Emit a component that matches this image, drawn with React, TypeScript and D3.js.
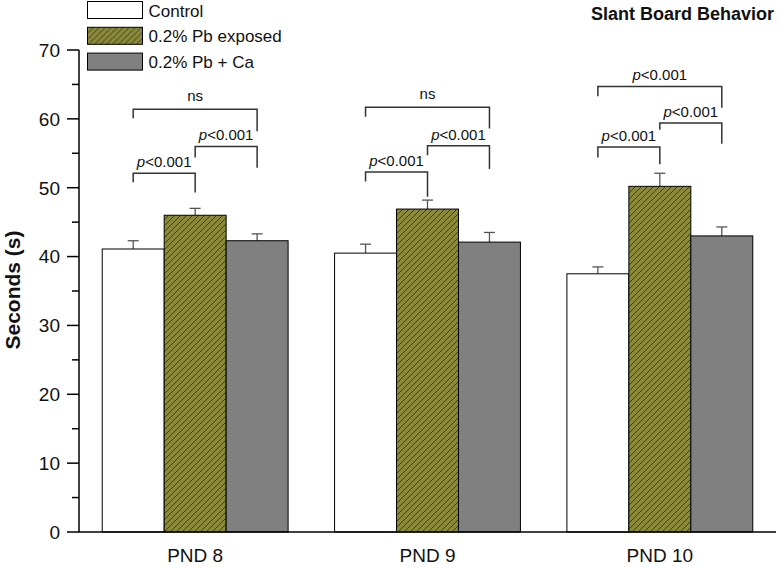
import React from "react";
import * as d3 from "d3";

const categories = ["PND 8", "PND 9", "PND 10"];
const seriesNames = ["Control", "0.2% Pb exposed", "0.2% Pb + Ca"];
const controlMeans = [41.1, 40.5, 37.5];
const controlErr = [1.2, 1.3, 1.0];
const pbMeans = [46.0, 46.9, 50.2];
const pbErr = [1.0, 1.3, 1.9];
const caMeans = [42.3, 42.1, 43.0];
const caErr = [1.0, 1.4, 1.3];
const yTicks = [0, 10, 20, 30, 40, 50, 60, 70];
const yMinorTicks = [5, 15, 25, 35, 45, 55, 65];

// significance brackets: group index, series from/to, bracket level, left/right drop ends
const bracketGroup = [0, 0, 0, 1, 1, 1, 2, 2, 2];
const bracketFrom = [0, 1, 0, 0, 1, 0, 0, 1, 0];
const bracketTo = [1, 2, 2, 1, 2, 2, 1, 2, 2];
const bracketLevel = [52.1, 56.0, 61.4, 52.3, 56.1, 61.7, 55.9, 59.4, 64.7];
const bracketLeftEnd = [50.8, 54.4, 60.1, 50.9, 54.7, 60.3, 54.4, 58.4, 63.3];
const bracketRightEnd = [49.3, 52.9, 58.2, 48.7, 52.7, 58.6, 53.4, 56.4, 61.6];
const bracketLabel = ["p<0.001", "p<0.001", "ns", "p<0.001", "p<0.001", "ns", "p<0.001", "p<0.001", "p<0.001"];

const FONT = "'Liberation Sans', Arial, sans-serif";

export default function App() {
  const W = 780, H = 569;
  const means = [controlMeans, pbMeans, caMeans];
  const errs = [controlErr, pbErr, caErr];
  const fills = ["#ffffff", "url(#hatch)", "#808080"];

  const x0 = d3.scaleBand<string>().domain(categories).range([79, 776]).paddingInner(0.2).paddingOuter(0.1);
  const x1 = d3.scaleBand<number>().domain([0, 1, 2]).range([0, x0.bandwidth()]).padding(0);
  const y = d3.scaleLinear().domain([0, 70]).range([532, 50]);

  const cx = (g: number, s: number) => (x0(categories[g]) as number) + (x1(s) as number) + x1.bandwidth() / 2;

  return (
    <svg width={W} height={H} style={{ position: "absolute", left: 0, top: 0, background: "#fff" }} fontFamily={FONT}>
      <defs>
        <pattern id="hatch" patternUnits="userSpaceOnUse" width={6} height={6}>
          <rect width={6} height={6} fill="#8a8a3a" />
          <path d="M0,6 L6,0 M-1,1 L1,-1 M5,7 L7,5" stroke="#222214" strokeWidth={0.75} />
        </pattern>
      </defs>

      {/* bars */}
      {categories.map((c, g) =>
        [0, 1, 2].map((s) => {
          const xL = (x0(c) as number) + (x1(s) as number);
          const top = y(means[s][g]);
          const cap = y(means[s][g] + errs[s][g]);
          const xc = xL + x1.bandwidth() / 2;
          return (
            <g key={c + s}>
              <line x1={xc} x2={xc} y1={top} y2={cap} stroke="#555" strokeWidth={1.3} />
              <line x1={xc - 5.5} x2={xc + 5.5} y1={cap} y2={cap} stroke="#555" strokeWidth={1.3} />
              <rect x={xL} y={top} width={x1.bandwidth()} height={y(0) - top} fill={fills[s]} stroke="#000" strokeWidth={1} />
            </g>
          );
        })
      )}

      {/* brackets */}
      {bracketGroup.map((g, i) => {
        const xa = cx(g, bracketFrom[i]);
        const xb = cx(g, bracketTo[i]);
        const yl = y(bracketLevel[i]);
        const lbl = bracketLabel[i];
        return (
          <g key={"b" + i}>
            <path
              d={`M${xa},${y(bracketLeftEnd[i])} L${xa},${yl} L${xb},${yl} L${xb},${y(bracketRightEnd[i])}`}
              fill="none"
              stroke="#333"
              strokeWidth={1.5}
            />
            <text x={(xa + xb) / 2} y={yl - (lbl === "ns" ? 8 : 6)} textAnchor="middle" fontSize={15} fill="#111">
              {lbl.startsWith("p") ? (
                <>
                  <tspan fontStyle="italic">p</tspan>
                  {lbl.slice(1)}
                </>
              ) : (
                lbl
              )}
            </text>
          </g>
        );
      })}

      {/* axes */}
      <line x1={79} x2={79} y1={y(70)} y2={y(0)} stroke="#000" strokeWidth={1.5} />
      <line x1={78.25} x2={776} y1={y(0)} y2={y(0)} stroke="#000" strokeWidth={1.5} />
      {yTicks.map((t) => (
        <g key={"t" + t}>
          <line x1={67} x2={79} y1={y(t)} y2={y(t)} stroke="#000" strokeWidth={1.5} />
          <text x={60} y={y(t)} dy="0.36em" textAnchor="end" fontSize={19} fill="#111">
            {t}
          </text>
        </g>
      ))}
      {yMinorTicks.map((t) => (
        <line key={"m" + t} x1={72} x2={79} y1={y(t)} y2={y(t)} stroke="#000" strokeWidth={1.5} />
      ))}
      {categories.map((c) => (
        <text key={c} x={(x0(c) as number) + x0.bandwidth() / 2} y={562} textAnchor="middle" fontSize={19} fill="#111">
          {c}
        </text>
      ))}
      <text transform="translate(20,290) rotate(-90)" textAnchor="middle" fontSize={21} fontWeight="bold" fill="#111">
        Seconds (s)
      </text>

      {/* title */}
      <text x={774} y={20} textAnchor="end" fontSize={18} fontWeight="bold" fill="#111">
        Slant Board Behavior
      </text>

      {/* legend */}
      {seriesNames.map((n, i) => (
        <g key={n} transform={`translate(87.5,${1.5 + i * 25.8})`}>
          <rect x={0} y={0} width={55} height={17} fill={fills[i]} stroke="#000" strokeWidth={1} />
          <text x={61} y={15} fontSize={17} fill="#111">
            {n}
          </text>
        </g>
      ))}
    </svg>
  );
}
